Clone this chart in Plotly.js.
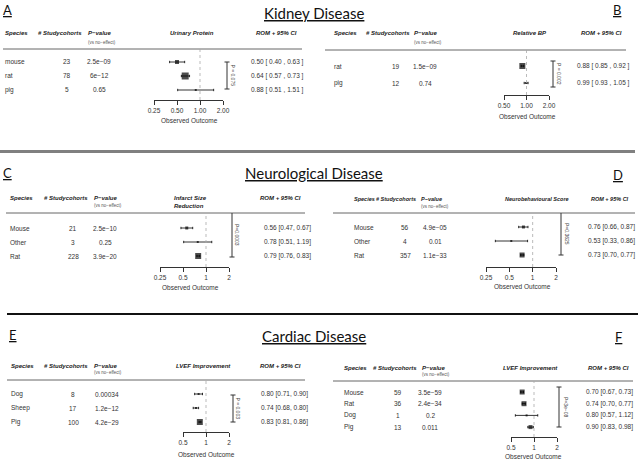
<!DOCTYPE html>
<html><head><meta charset="utf-8">
<script src="https://cdn.plot.ly/plotly-3.0.1.min.js"></script>
<style>html,body{margin:0;padding:0;background:#fff}#chart{width:640px;height:460px}</style>
</head><body><div id="chart"></div>
<script>
// ---------------- DATA ----------------
// A – Kidney disease, urinary protein
const speciesA = ['mouse','rat','pig'];
const cohortsA = [23,78,5];
const pvalA = ['2.5e\u221209','6e\u221212','0.65'];
const romA = [0.50,0.64,0.88];
const lowA = [0.40,0.57,0.51];
const highA = [0.63,0.73,1.51];
const ticksA = [0.25,0.5,1,2];
const tickTextA = ['0.25','0.50','1.00','2.00'];
const outcomeA = 'Urinary Protein';
const pTestA = 'P = 0.075';
// B – Kidney disease, relative BP
const speciesB = ['rat','pig'];
const cohortsB = [19,12];
const pvalB = ['1.5e\u221209','0.74'];
const romB = [0.88,0.99];
const lowB = [0.85,0.93];
const highB = [0.92,1.05];
const ticksB = [0.5,1,2];
const tickTextB = ['0.50','1.00','2.00'];
const outcomeB = 'Relative BP';
const pTestB = 'P = 0.002';
// C – Neurological disease, infarct size reduction
const speciesC = ['Mouse','Other','Rat'];
const cohortsC = [21,3,228];
const pvalC = ['2.5e\u221210','0.25','3.9e\u221220'];
const romC = [0.56,0.78,0.79];
const lowC = [0.47,0.51,0.76];
const highC = [0.67,1.19,0.83];
const ticksC = [0.25,0.5,1,2];
const tickTextC = ['0.25','0.5','1','2'];
const outcomeC = 'Infarct Size<br>Reduction';
const pTestC = 'P=0.0003';
// D – Neurological disease, neurobehavioural score
const speciesD = ['Mouse','Other','Rat'];
const cohortsD = [56,4,357];
const pvalD = ['4.9e\u221205','0.01','1.1e\u221233'];
const romD = [0.76,0.53,0.73];
const lowD = [0.66,0.33,0.70];
const highD = [0.87,0.86,0.77];
const ticksD = [0.25,0.5,1,2];
const tickTextD = ['0.25','0.5','1','2'];
const outcomeD = 'Neurobehavioural Score';
const pTestD = 'P=0.3625';
// E – Cardiac disease, LVEF improvement (large animals)
const speciesE = ['Dog','Sheep','Pig'];
const cohortsE = [8,17,100];
const pvalE = ['0.00034','1.2e\u221212','4.2e\u221229'];
const romE = [0.80,0.74,0.83];
const lowE = [0.71,0.68,0.81];
const highE = [0.90,0.80,0.86];
const ticksE = [0.5,1,2];
const tickTextE = ['0.5','1','2'];
const outcomeE = 'LVEF Improvement';
const pTestE = 'P = 0.003';
// F – Cardiac disease, LVEF improvement
const speciesF = ['Mouse','Rat','Dog','Pig'];
const cohortsF = [59,36,1,13];
const pvalF = ['3.5e\u221259','2.4e\u221234','0.2','0.011'];
const romF = [0.70,0.74,0.80,0.90];
const lowF = [0.67,0.70,0.57,0.83];
const highF = [0.73,0.77,1.12,0.98];
const ticksF = [0.5,1,2];
const tickTextF = ['0.5','1','2'];
const outcomeF = 'LVEF Improvement';
const pTestF = 'P=3e\u221208';

const headers = ['Species','# Studycohorts','P\u2212value','(vs no\u2212effect)','ROM + 95% CI'];

// ---------------- STYLE / LAYOUT ----------------
const W = 640, H = 460;
const px = x => x / W, py = y => 1 - y / H;
const FT = 'Liberation Sans';
const FH = 'Lato';
const TXT = '#333';

const f2 = v => v.toFixed(2);
const romFmtWide = (r,l,h) => `${f2(r)} [ ${f2(l)} , ${f2(h)} ]`;
const romFmtTight = (r,l,h) => `${f2(r)} [${f2(l)}, ${f2(h)}]`;

const panels = [
  {sp:speciesA, n:cohortsA, p:pvalA, r:romA, lo:lowA, hi:highA, tv:ticksA, tt:tickTextA, out:outcomeA, pt:pTestA, fmt:romFmtWide,
   sizes:[4,7,2], hs:6,
   g:{x0:154,x1:223,axisY:100,lineY:49,lineL:3,lineR:302,headY:33,subY:42,rowY0:62,step:14,
      cSp:4,cN:67,cP:99,cR:250,hSp:4,hN:37,hP:87,hOut:192,hRomR:298,ooX:189,ooY:121,brX:227,brY0:62,brY1:89,pX:233,capTop:true}},
  {sp:speciesB, n:cohortsB, p:pvalB, r:romB, lo:lowB, hi:highB, tv:ticksB, tt:tickTextB, out:outcomeB, pt:pTestB, fmt:romFmtWide,
   sizes:[6,2], hs:6,
   g:{x0:504,x1:549,axisY:95,lineY:50,lineL:325,lineR:626,headY:33,subY:42,rowY0:66,step:17,
      cSp:333,cN:396,cP:425,cR:576,hSp:333,hN:365,hP:413,hOut:530,hRomR:623,ooX:527,ooY:117,brX:553,brY0:61,brY1:87,pX:559,capTop:true}},
  {sp:speciesC, n:cohortsC, p:pvalC, r:romC, lo:lowC, hi:highC, tv:ticksC, tt:tickTextC, out:outcomeC, pt:pTestC, fmt:romFmtTight,
   sizes:[3,2,6], hs:6,
   g:{x0:160,x1:229,axisY:267,lineY:213,lineL:6,lineR:305,headY:198,subY:205,rowY0:228,step:14,
      cSp:9,cN:73,cP:105,cR:263,hSp:9,hN:43,hP:93,hOut:190,hRomR:302,ooX:190,ooY:287,brX:232,brY0:213,brY1:257,pX:237,capTop:false}},
  {sp:speciesD, n:cohortsD, p:pvalD, r:romD, lo:lowD, hi:highD, tv:ticksD, tt:tickTextD, out:outcomeD, pt:pTestD, fmt:romFmtTight,
   sizes:[3,2,5], hs:5.5,
   g:{x0:486,x1:556,axisY:267,lineY:213,lineL:333,lineR:635,headY:199,subY:206,rowY0:227,step:14,
      cSp:353,cN:405,cP:435,cR:587,hSp:353,hN:375,hP:420,hOut:537,hRomR:630,ooX:522,ooY:286,brX:561,brY0:213,brY1:255,pX:567,capTop:false}},
  {sp:speciesE, n:cohortsE, p:pvalE, r:romE, lo:lowE, hi:highE, tv:ticksE, tt:tickTextE, out:outcomeE, pt:pTestE, fmt:romFmtTight,
   sizes:[2,2,6], hs:6,
   g:{x0:183,x1:229,axisY:432,lineY:380,lineL:7,lineR:305,headY:366,subY:372,rowY0:394,step:14,
      cSp:10,cN:73,cP:107,cR:260,hSp:10,hN:43,hP:93,hOut:203,hRomR:302,ooX:206,ooY:454,brX:233,brY0:395,brY1:422,pX:238,capTop:true}},
  {sp:speciesF, n:cohortsF, p:pvalF, r:romF, lo:lowF, hi:highF, tv:ticksF, tt:tickTextF, out:outcomeF, pt:pTestF, fmt:romFmtTight,
   sizes:[5,5,2,4], hs:6,
   g:{x0:511,x1:557,axisY:437,lineY:381,lineL:333,lineR:633,headY:368,subY:374,rowY0:392,step:11.7,
      cSp:343,cN:398,cP:430,cR:585,hSp:343,hN:372,hP:421,hOut:530,hRomR:630,ooX:533,ooY:456,brX:559,brY0:387,brY1:427,pX:566,capTop:true}}
];

const traces = [], annotations = [], shapes = [];
const layout = {
  width: W, height: H, margin:{l:0,r:0,t:0,b:0}, showlegend:false,
  paper_bgcolor:'#fff', plot_bgcolor:'rgba(0,0,0,0)',
  annotations, shapes
};

function ann(x, y, text, o) {
  annotations.push(Object.assign({xref:'paper', yref:'paper', x:px(x), y:py(y), text, showarrow:false,
    xanchor:'left', yanchor:'middle', borderpad:0, font:{family:FT, size:6.5, color:TXT}}, o || {}));
}

panels.forEach((P, k) => {
  const g = P.g, id = k === 0 ? '' : String(k + 1);
  const xa = 'x' + id, ya = 'y' + id;
  layout['xaxis' + id] = {
    type:'log', domain:[px(g.x0), px(g.x1)],
    range:[Math.log10(P.tv[0]), Math.log10(P.tv[P.tv.length - 1])],
    tickvals:P.tv, ticktext:P.tt, showline:true, linecolor:'#333', linewidth:1,
    ticks:'outside', ticklen:4, tickcolor:'#333', tickwidth:1,
    showgrid:false, zeroline:false, anchor:ya, fixedrange:true,
    tickfont:{family:FT, size:6.5, color:TXT}
  };
  layout['yaxis' + id] = {
    domain:[py(g.axisY), py(g.lineY)],
    range:[(g.axisY - g.rowY0) / g.step, (g.lineY - g.rowY0) / g.step],
    visible:false, anchor:xa, fixedrange:true
  };
  const rows = P.sp.map((_, i) => i);
  traces.push({
    type:'scatter', mode:'markers', x:P.r, y:rows, xaxis:xa, yaxis:ya, cliponaxis:false,
    marker:{symbol:'square', color:'#000', size:P.sizes, line:{width:0}},
    error_x:{type:'data', symmetric:false,
      array:P.r.map((v, i) => P.hi[i] - v), arrayminus:P.r.map((v, i) => v - P.lo[i]),
      color:'#000', thickness:0.8, width:1.2}
  });
  const hf = {family:FT, size:P.hs, color:'#222'};
  ann(g.hSp, g.headY, '<b><i>' + headers[0] + '</i></b>', {font:hf});
  ann(g.hN, g.headY, '<b><i>' + headers[1] + '</i></b>', {font:hf});
  ann(g.hP, g.headY, '<b><i>' + headers[2] + '</i></b>', {font:hf});
  ann(g.hP, g.subY, headers[3], {font:{family:FT, size:4.5, color:'#555'}});
  ann(g.hOut, P.out.includes('<br>') ? (g.headY + g.subY) / 2 : g.headY,
      '<b><i>' + P.out.replace('<br>', '</i></b><br><b><i>') + '</i></b>',
      {font:hf, xanchor:'center', align:'left'});
  ann(g.hRomR, g.headY, '<b><i>' + headers[4] + '</i></b>', {font:hf, xanchor:'right'});
  shapes.push({type:'line', xref:'paper', yref:'paper', x0:px(g.lineL), x1:px(g.lineR), y0:py(g.lineY), y1:py(g.lineY),
    line:{color:'#666', width:1}});
  P.sp.forEach((s, i) => {
    const yr = {yref:ya, y:i};
    ann(g.cSp, 0, s, yr);
    ann(g.cN, 0, String(P.n[i]), Object.assign({xanchor:'center'}, yr));
    ann(g.cP, 0, P.p[i], Object.assign({xanchor:'center'}, yr));
    ann(g.cR, 0, P.fmt(P.r[i], P.lo[i], P.hi[i]), yr);
  });
  shapes.push({type:'line', xref:xa, yref:ya + ' domain', x0:1, x1:1, y0:0, y1:1,
    line:{color:'#aaa', width:0.8, dash:'dot'}});
  ann(g.ooX, g.ooY, 'Observed Outcome', {xanchor:'center'});
  const ln = {color:'#333', width:1};
  shapes.push({type:'line', xref:'paper', yref:'paper', x0:px(g.brX), x1:px(g.brX), y0:py(g.brY0), y1:py(g.brY1), line:ln});
  if (g.capTop) shapes.push({type:'line', xref:'paper', yref:'paper', x0:px(g.brX - 2.5), x1:px(g.brX + 2.5), y0:py(g.brY0), y1:py(g.brY0), line:ln});
  shapes.push({type:'line', xref:'paper', yref:'paper', x0:px(g.brX - 2.5), x1:px(g.brX + 2.5), y0:py(g.brY1), y1:py(g.brY1), line:ln});
  ann(g.pX, (g.brY0 + g.brY1) / 2, P.pt, {xanchor:'center', textangle:90, font:{family:FT, size:5, color:'#444'}});
});

const sectionTitles = ['Kidney Disease','Neurological Disease','Cardiac Disease'];
const panelLetters = ['A','B','C','D','E','F'];
const titleY = [13, 173, 336];
const letterPos = [[7,10],[617,10],[7,173],[618,175],[13,335],[618,337]];
const tf = {family:FH, size:15, color:'#111'};
sectionTitles.forEach((t, i) => ann(314, titleY[i], '<u>' + t + '</u>', {xanchor:'center', font:tf}));
panelLetters.forEach((t, i) => ann(letterPos[i][0], letterPos[i][1], '<u>' + t + '</u>', {xanchor:'center', font:{family:FH, size:13, color:'#111'}}));

shapes.push({type:'line', xref:'paper', yref:'paper', x0:0, x1:px(635), y0:py(151.5), y1:py(151.5), line:{color:'#808080', width:3}});
shapes.push({type:'line', xref:'paper', yref:'paper', x0:px(7), x1:px(638), y0:py(314), y1:py(314), line:{color:'#111', width:2}});

Plotly.newPlot('chart', traces, layout, {staticPlot:true, displayModeBar:false});
</script></body></html>
